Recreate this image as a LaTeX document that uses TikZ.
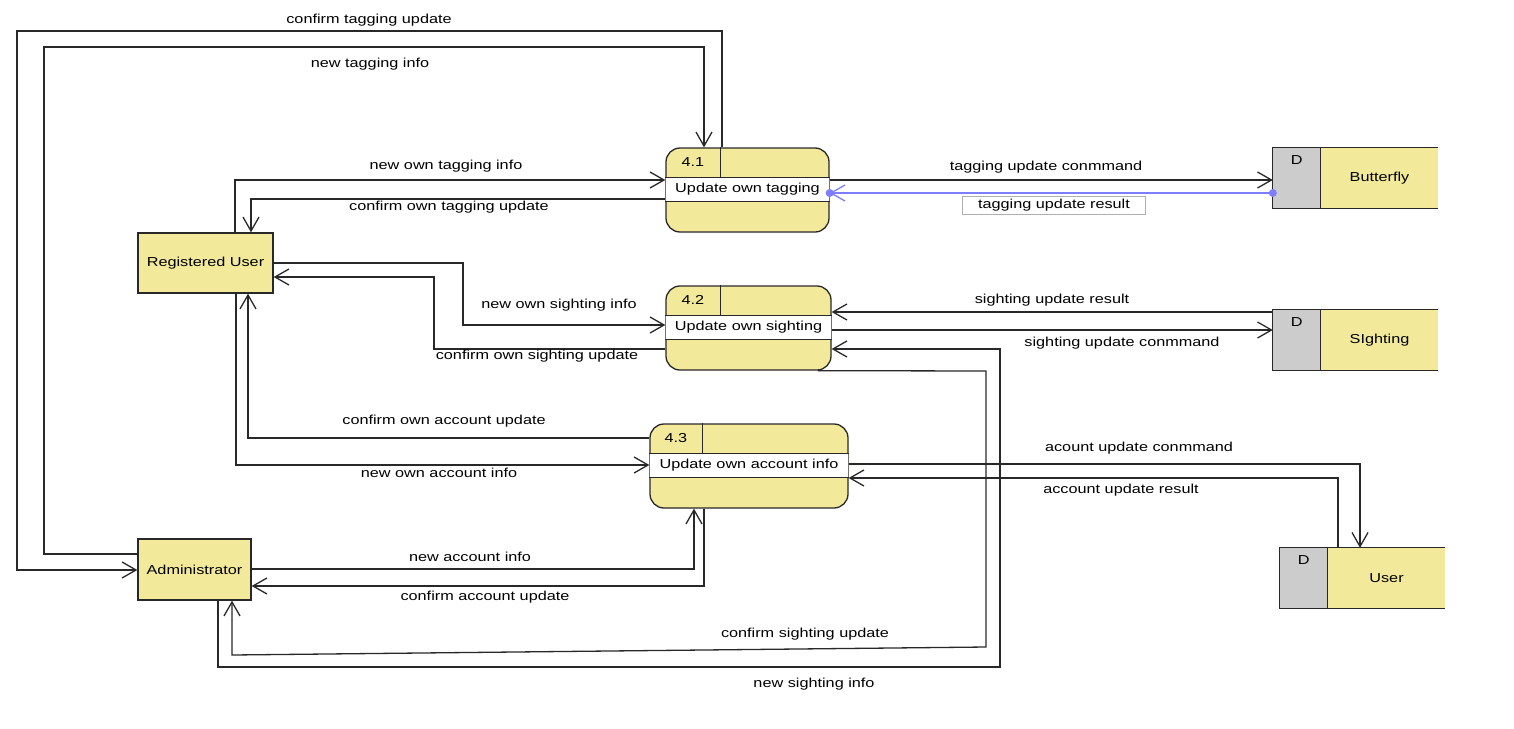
\documentclass[tikz,border=0pt]{standalone}
\usepackage{fontspec}
\setmainfont{Liberation Sans}[FakeStretch=1.25]
\usetikzlibrary{arrows.meta,calc}

\definecolor{procfill}{RGB}{243,233,155}
\definecolor{storegray}{RGB}{204,204,204}
\definecolor{ink}{RGB}{40,40,40}
\definecolor{selblue}{RGB}{125,125,255}
\definecolor{tagframe}{RGB}{175,175,175}

% header row, name band and number cell of a process
\newcommand\procparts[4]{%
  \fill[white] ($(#1.north west)+(0.7,30)$) rectangle ($(#1.north east)+(-0.7,54)$);
  \draw[outline] ($(#1.north west)+(0,30)$) -- ($(#1.north east)+(0,30)$)
                 ($(#1.north west)+(0,54)$) -- ($(#1.north east)+(0,54)$)
                 ($(#1.north west)+(#4,0)$) -- ($(#1.north west)+(#4,30)$);
  \node (#1-num) at ($(#1.north west)+(#4/2,15)$) {#2};
  \node (#1-title) at ($(#1.north)+(0,42)$) {#3};
}

% open-ended data store with its grey "D" cell
\newcommand\storeparts[2]{%
  \fill[storegray] (#1.north west) rectangle ($(#1.south west)+(48,0)$);
  \fill[procfill] ($(#1.north west)+(48,0)$) rectangle (#1.south east);
  \draw[outline] (#1.north east) -- (#1.north west) -- (#1.south west) -- (#1.south east);
  \draw[outline] ($(#1.north west)+(48,0)$) -- ($(#1.south west)+(48,0)$);
  \node (#1-d) at ($(#1.north west)+(24,12)$) {D};
  \node (#1-title) at ($(#1.center)+(24,0)$) {#2};
}

\begin{document}
\begin{tikzpicture}[x=1pt,y=-1pt,
  font=\fontsize{13}{15}\selectfont,
  outline/.style={draw=ink, line width=1.3pt},
  entity/.style={outline, fill=procfill, inner sep=0pt},
  procbox/.style={outline, fill=procfill, rounded corners=14pt, inner sep=0pt, minimum height=84pt},
  storebox/.style={inner sep=0pt, minimum width=165pt, minimum height=60pt},
  flow/.style={draw=ink, line width=1.3pt, -{Straight Barb[length=14pt,width=16pt]}},
  selflow/.style={draw=selblue, line width=1.3pt, -{Straight Barb[length=14pt,width=16pt]}},
  lbl/.style={inner sep=1pt},
]
\useasboundingbox[fill=white] (0,0) rectangle (1514,728);

% external entities
\node[entity, minimum width=135pt, minimum height=60pt] (ru) at (205.5,263) {Registered User};
\node[entity, minimum width=113pt, minimum height=61pt] (adm) at (194.5,569.5) {Administrator};

% processes
\node[procbox, minimum width=163pt] (p41) at (747.5,190) {};
\procparts{p41}{4.1}{Update own tagging}{55}
\node[procbox, minimum width=165pt] (p42) at (748.5,328) {};
\procparts{p42}{4.2}{Update own sighting}{55}
\node[procbox, minimum width=198pt] (p43) at (749,466) {};
\procparts{p43}{4.3}{Update own account info}{53}

% data stores
\node[storebox] (bfly) at (1355.5,178) {};
\storeparts{bfly}{Butterfly}
\node[storebox] (sight) at (1355.5,340) {};
\storeparts{sight}{SIghting}
\node[storebox] (user) at (1362.5,578) {};
\storeparts{user}{User}

% tagging flows
\draw[flow] (p41.north -| 722,0) -- (722,31) -- (17,31) -- (17,570) -- (adm.west |- 0,570);
\draw[flow] (adm.west |- 0,554) -- (44,554) -- (44,47) -- (704,47) -- (p41.north -| 704,0);
\draw[flow] (ru.north -| 235,0) -- (235,180) -- (p41.west |- 0,180);
\draw[flow] (p41.west |- 0,199) -- (251,199) -- (ru.north -| 251,0);
\draw[flow] (p41.east |- 0,180) -- (bfly.west |- 0,180);
\draw[selflow] (bfly.west |- 0,193) -- (p41.east |- 0,193);
\fill[selblue] (bfly.west |- 0,193) circle (4pt);
\fill[selblue] (p41.east |- 0,193) circle (4pt);

% sighting flows
\draw[flow] (ru.east |- 0,263) -- (463,263) -- (463,325) -- (p42.west |- 0,325);
\draw[flow] (p42.west |- 0,349) -- (434,349) -- (434,277) -- (ru.east |- 0,277);
\draw[flow] (sight.west |- 0,312) -- (p42.east |- 0,312);
\draw[flow] (p42.east |- 0,330) -- (sight.west |- 0,330);
\draw[flow] ([xshift=-14pt]p42.south east) -- (986,371) -- (986,647) -- (232,655) -- (adm.south -| 232,0);
\draw[flow] (adm.south -| 218,0) -- (218,667) -- (1000,667) -- (1000,349) -- (p42.east |- 0,349);

% account flows
\draw[flow] (p43.west |- 0,438) -- (248,438) -- (ru.south -| 248,0);
\draw[flow] (ru.south -| 236,0) -- (236,465) -- (p43.west |- 0,465);
\draw[flow] (adm.east |- 0,569) -- (694,569) -- (p43.south -| 694,0);
\draw[flow] (p43.south -| 704,0) -- (704,586) -- (adm.east |- 0,586);
\draw[flow] (p43.east |- 0,464) -- (1360,464) -- (user.north -| 1360,0);
\draw[flow] (user.north -| 1338,0) -- (1338,478) -- (p43.east |- 0,478);

% flow labels
\node[lbl] (l1) at (369,20) {confirm tagging update};
\node[lbl] (l2) at (370,64) {new tagging info};
\node[lbl] (l3) at (446,166) {new own tagging info};
\node[lbl] (l4) at (449,207) {confirm own tagging update};
\node[lbl] (l5) at (1046,167) {tagging update conmmand};
\node[draw=tagframe, fill=white, line width=0.8pt, inner sep=0pt, minimum width=183pt, minimum height=18pt] (l6) at (1054,205) {tagging update result};
\node[lbl] (l7) at (559,305) {new own sighting info};
\node[lbl] (l8) at (537,356) {confirm own sighting update};
\node[lbl] (l9) at (1052,300) {sighting update result};
\node[lbl] (l10) at (1122,343) {sighting update conmmand};
\node[lbl] (l11) at (444,421) {confirm own account update};
\node[lbl] (l12) at (439,473) {new own account info};
\node[lbl] (l13) at (470,557) {new account info};
\node[lbl] (l14) at (485,597) {confirm account update};
\node[lbl] (l15) at (805,634) {confirm sighting update};
\node[lbl] (l16) at (814,684) {new sighting info};
\node[lbl] (l17) at (1139,448) {acount update conmmand};
\node[lbl] (l18) at (1121,490) {account update result};
\end{tikzpicture}
\end{document}
